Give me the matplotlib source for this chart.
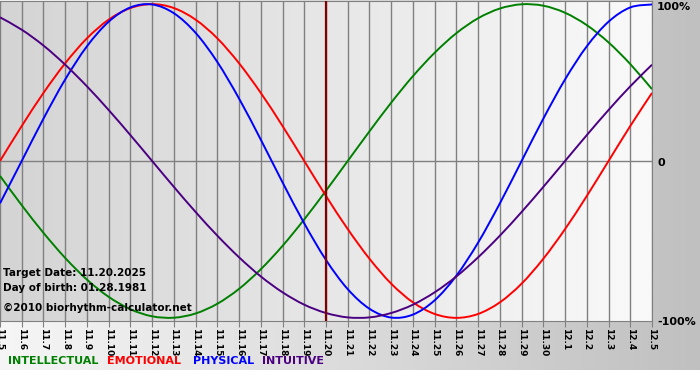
import numpy as np
import matplotlib
matplotlib.use("Agg")
import matplotlib.pyplot as plt
from matplotlib.path import Path
from matplotlib.patches import PathPatch

# dias del grafico (11.5 -> 12.5)
dias = ["11.5", "11.6", "11.7", "11.8", "11.9", "11.10", "11.11", "11.12", "11.13",
        "11.14", "11.15", "11.16", "11.17", "11.18", "11.19", "11.20", "11.21",
        "11.22", "11.23", "11.24", "11.25", "11.26", "11.27", "11.28", "11.29",
        "11.30", "12.1", "12.2", "12.3", "12.4", "12.5"]
dia_objetivo = "11.20"

# valores (-1 .. 1)
intelectual = [-0.095, -0.282, -0.458, -0.618, -0.756, -0.866, -0.945, -0.990, -0.999, -0.972,
               -0.910, -0.815, -0.690, -0.541, -0.372, -0.189, 0.000, 0.189, 0.372, 0.541,
               0.690, 0.815, 0.910, 0.972, 0.999, 0.990, 0.945, 0.866, 0.756, 0.618, 0.458]
emocional = [0.000, 0.223, 0.434, 0.623, 0.782, 0.901, 0.975, 1.000, 0.975, 0.901,
             0.782, 0.623, 0.434, 0.223, 0.000, -0.223, -0.434, -0.623, -0.782, -0.901,
             -0.975, -1.000, -0.975, -0.901, -0.782, -0.623, -0.434, -0.223, 0.000, 0.223, 0.434]
fisico = [-0.270, 0.000, 0.270, 0.520, 0.731, 0.888, 0.979, 0.998, 0.942, 0.817,
          0.631, 0.398, 0.136, -0.136, -0.398, -0.631, -0.817, -0.942, -0.998, -0.979,
          -0.888, -0.731, -0.520, -0.270, 0.000, 0.270, 0.520, 0.731, 0.888, 0.979, 0.998]
intuitivo = [0.916, 0.837, 0.736, 0.614, 0.476, 0.325, 0.165, 0.000, -0.165, -0.325,
             -0.476, -0.614, -0.736, -0.837, -0.916, -0.969, -0.997, -0.997, -0.969, -0.916,
             -0.837, -0.736, -0.614, -0.476, -0.325, -0.165, 0.000, 0.165, 0.325, 0.476, 0.614]

series = [("INTELLECTUAL", intelectual, "#008000"),
          ("EMOTIONAL", emocional, "#ff0000"),
          ("PHYSICAL", fisico, "#0000ff"),
          ("INTUITIVE", intuitivo, "#4b0082")]


def curva_suave(xs, ys):
    # curva bezier que pasa por los puntos (catmull-rom)
    p = np.column_stack([xs, ys]).astype(float)
    p_ext = np.vstack([p[0], p, p[-1]])
    verts = [p[0]]
    codes = [Path.MOVETO]
    for i in range(len(p) - 1):
        a, b, c, d = p_ext[i], p_ext[i + 1], p_ext[i + 2], p_ext[i + 3]
        verts += [b + (c - a) / 6, c - (d - b) / 6, c]
        codes += [Path.CURVE4] * 3
    return Path(verts, codes)


fig = plt.figure(figsize=(7, 3.8), dpi=100)

# fondo de la figura con degradado
fondo = fig.add_axes([0, 0, 1, 1])
fondo.axis("off")
grad = np.linspace(0, 1, 256).reshape(1, -1)
fondo.imshow(grad, cmap=matplotlib.colors.LinearSegmentedColormap.from_list(
    "f", ["#f6f6f6", "#c0c0c0"]), aspect="auto", extent=[0, 1, 10 / 380, 1])
fondo.set_xlim(0, 1)
fondo.set_ylim(0, 1)

ax = fig.add_axes([0, 1 - 321 / 380, 652 / 700, 320 / 380])
x = np.arange(len(dias))
ax.imshow(grad, cmap=matplotlib.colors.LinearSegmentedColormap.from_list(
    "p", ["#d4d4d4", "#fafafa"]), aspect="auto", extent=[0, len(dias) - 1, -1.02, 1.02],
    zorder=0)

for xi in x:
    ax.axvline(xi, color="#808080", lw=1, zorder=1)
ax.axhline(0, color="#808080", lw=1, zorder=1)

for nombre, valores, color in series:
    ax.add_patch(PathPatch(curva_suave(x, valores), fill=False, edgecolor=color,
                           lw=1.4, zorder=3))

ax.axvline(dias.index(dia_objetivo), color="#800000", lw=1.6, zorder=4)

ax.set_xlim(0, len(dias) - 1)
ax.set_ylim(-1.02, 1.02)
ax.set_xticks(x)
ax.set_xticklabels(dias, rotation=270, fontsize=6.5, fontweight="bold")
ax.tick_params(axis="x", length=4, color="#808080", pad=1)
ax.set_yticks([])
for s in ax.spines.values():
    s.set_color("#808080")
ax.spines["left"].set_visible(False)

# etiquetas de la derecha
for ypix, txt in [(7, "100%"), (163, "0"), (322, "-100%")]:
    fig.text(657 / 700, 1 - ypix / 380, txt, fontsize=8, fontweight="bold",
             va="center", ha="left")

# textos de informacion
ax.text(3 / 652, 1 - 272 / 320, "Target Date: 11.20.2025", transform=ax.transAxes,
        fontsize=7.5, fontweight="bold", va="center")
ax.text(3 / 652, 1 - 287 / 320, "Day of birth: 01.28.1981", transform=ax.transAxes,
        fontsize=7.5, fontweight="bold", va="center")
ax.text(3 / 652, 1 - 307 / 320, "\u00a92010 biorhythm-calculator.net", transform=ax.transAxes,
        fontsize=7.5, fontweight="bold", va="center")

# leyenda
pos_x = [8, 107, 193, 262]
for (nombre, valores, color), px in zip(series, pos_x):
    fig.text(px / 700, 1 - 361 / 380, nombre, color=color, fontsize=8,
             fontweight="bold", va="center", ha="left")

fig.savefig("out.png", dpi=100)
